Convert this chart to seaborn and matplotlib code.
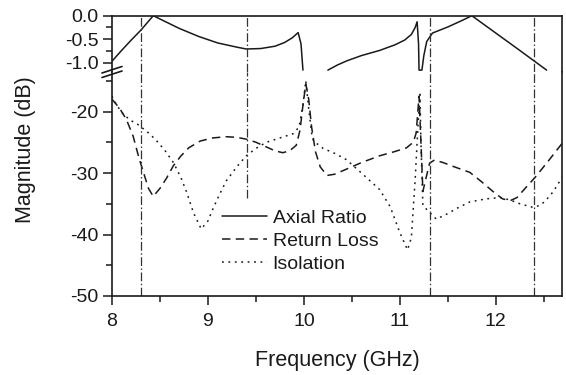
import numpy as np
import pandas as pd
import matplotlib
matplotlib.use("Agg")
import matplotlib.pyplot as plt
from matplotlib.lines import Line2D
from matplotlib.ticker import MultipleLocator
import seaborn as sns

# ---------------- data ----------------
ar_seg1_x = [8.00, 8.10, 8.20, 8.30, 8.43, 8.55, 8.70, 8.90, 9.10, 9.30, 9.40,
             9.55, 9.70, 9.80, 9.88, 9.94, 9.97, 9.99]
ar_seg1_y = [-0.97, -0.74, -0.52, -0.31, 0.00, -0.12, -0.27, -0.44, -0.58, -0.67, -0.71,
             -0.70, -0.65, -0.57, -0.47, -0.36, -0.60, -1.16]
ar_seg2_x = [10.25, 10.35, 10.45, 10.60, 10.79, 10.95, 11.05, 11.12, 11.16, 11.18,
             11.195, 11.20, 11.23, 11.25, 11.28, 11.34, 11.50, 11.65, 11.75, 12.00,
             12.25, 12.53]
ar_seg2_y = [-1.16, -1.05, -0.96, -0.85, -0.74, -0.62, -0.52, -0.40, -0.25, -0.13,
             -0.60, -1.16, -1.16, -0.85, -0.55, -0.37, -0.24, -0.10, 0.00, -0.37,
             -0.74, -1.16]

rl_x = [8.00, 8.08, 8.15, 8.22, 8.28, 8.33, 8.38, 8.43, 8.50, 8.57, 8.64, 8.72, 8.80,
        8.92, 9.05, 9.19, 9.30, 9.40, 9.50, 9.60, 9.70, 9.78, 9.85, 9.92, 9.96, 9.99,
        10.02, 10.05, 10.08, 10.12, 10.17, 10.24, 10.32, 10.44, 10.60, 10.79, 10.95,
        11.07, 11.14, 11.17, 11.20, 11.22, 11.24, 11.27, 11.31, 11.36, 11.45, 11.55,
        11.73, 11.85, 11.97, 12.07, 12.15, 12.22, 12.30, 12.41, 12.55, 12.70]
rl_y = [-18.0, -19.5, -21.3, -24.0, -27.5, -30.0, -32.5, -33.8, -32.5, -30.8, -28.8,
        -27.2, -25.9, -24.8, -24.3, -24.1, -24.2, -24.5, -25.0, -25.7, -26.4, -26.7,
        -26.4, -25.5, -23.0, -19.0, -15.5, -18.0, -22.5, -26.5, -29.0, -30.4, -30.2,
        -29.4, -28.3, -27.2, -26.5, -25.9, -25.0, -23.5, -17.5, -25.0, -33.0, -31.0,
        -28.4, -27.9, -28.3, -28.9, -29.9, -31.4, -33.0, -34.2, -34.5, -34.0, -32.6,
        -30.7, -28.0, -25.0]

iso_x = [8.00, 8.05, 8.12, 8.20, 8.26, 8.36, 8.45, 8.55, 8.64, 8.72, 8.78, 8.85, 8.93,
         9.00, 9.05, 9.12, 9.19, 9.30, 9.40, 9.50, 9.61, 9.75, 9.89, 9.95, 9.99, 10.02,
         10.05, 10.08, 10.10, 10.20, 10.32, 10.44, 10.60, 10.79, 10.90, 11.00, 11.08,
         11.12, 11.16, 11.19, 11.21, 11.22, 11.24, 11.31, 11.38, 11.50, 11.60, 11.73,
         11.90, 12.05, 12.15, 12.25, 12.39, 12.47, 12.53, 12.60, 12.70]
iso_y = [-17.5, -19.0, -20.5, -21.5, -22.0, -23.2, -24.5, -26.3, -28.3, -30.8, -33.2,
         -36.5, -39.1, -37.8, -35.9, -33.5, -31.3, -29.0, -27.2, -26.0, -25.0, -24.3,
         -23.6, -22.5, -19.0, -15.0, -19.5, -23.5, -24.8, -26.0, -26.8, -27.8, -30.0,
         -32.7, -35.5, -39.7, -42.5, -40.5, -31.0, -22.0, -17.2, -25.0, -35.3, -36.4,
         -37.5, -36.6, -35.7, -34.7, -34.2, -34.0, -34.4, -35.0, -35.6, -35.2, -34.3,
         -33.0, -30.5]

marker_freqs = [8.30, 9.41, 11.31, 12.40]
marker_bottom = [-50, -34, -50, -50]

series_labels = ["Axial Ratio", "Return Loss", "Isolation"]
x_ticks = [8, 9, 10, 11, 12]
# ----------------------------------------------------------------

sns.set_style("ticks")
plt.rcParams["font.family"] = ["Liberation Sans", "DejaVu Sans"]
plt.rcParams["axes.unicode_minus"] = False

W, H = 566, 375
fig = plt.figure(figsize=(W / 100, H / 100), dpi=100)

left, right = 112 / W, 562 / W
y_top, y_break, y_bot = 15.7, 72.0, 296.0
ax_top = fig.add_axes([left, 1 - y_break / H, right - left, (y_break - y_top) / H])
ax_bot = fig.add_axes([left, 1 - y_bot / H, right - left, (y_bot - y_break) / H])

ink = "#1a1a1a"
lw = 1.1
dashed = (0, (5.5, 3.5))
dotted = (0, (1.2, 3.0))

ar_df = pd.DataFrame({
    "f": ar_seg1_x + ar_seg2_x,
    "v": ar_seg1_y + ar_seg2_y,
    "seg": [1] * len(ar_seg1_x) + [2] * len(ar_seg2_x),
})
sns.lineplot(data=ar_df, x="f", y="v", units="seg", estimator=None, sort=False,
             color=ink, lw=lw, ax=ax_top)

rl_df = pd.DataFrame({"f": rl_x, "v": rl_y})
iso_df = pd.DataFrame({"f": iso_x, "v": iso_y})
sns.lineplot(data=rl_df, x="f", y="v", estimator=None, sort=False, color=ink, lw=lw,
             linestyle=dashed, ax=ax_bot)
sns.lineplot(data=iso_df, x="f", y="v", estimator=None, sort=False, color=ink, lw=lw,
             linestyle=dotted, ax=ax_bot)

xlim = (8.0, 12.69)
top_lim = (-1.2, 0.0)
bot_lim = (-50, -50 + (y_bot - y_break) / 6.15)

dd = (0, (7, 2, 1.2, 2))
for f, b in zip(marker_freqs, marker_bottom):
    ax_top.axvline(f, color="#333333", lw=0.9, linestyle=dd)
    ax_bot.vlines(f, b, bot_lim[1], color="#333333", lw=0.9, linestyle=dd)

FS_TICK = 14
FS_LAB = 15.5
for ax in (ax_top, ax_bot):
    ax.set_xlim(*xlim)
    ax.set_xlabel("")
    ax.set_ylabel("")
    for s in ax.spines.values():
        s.set_linewidth(1.2)
        s.set_color(ink)
    ax.tick_params(axis="both", which="major", direction="out", length=6.5, width=1.1,
                   colors=ink, labelsize=FS_TICK)
    ax.tick_params(axis="both", which="minor", direction="out", length=4, width=1.1,
                   colors=ink)
    ax.tick_params(axis="y", which="major", pad=3)
    ax.tick_params(axis="x", which="major", pad=6)
    ax.set_facecolor("white")

ax_top.set_ylim(*top_lim)
ax_top.spines["bottom"].set_visible(False)
ax_top.tick_params(axis="x", which="both", bottom=False, labelbottom=False)
ax_top.set_yticks([0.0, -0.5, -1.0])
ax_top.set_yticklabels(["0.0", "-0.5", "-1.0"])
ax_top.yaxis.set_minor_locator(MultipleLocator(0.25))

ax_bot.set_ylim(*bot_lim)
ax_bot.spines["top"].set_visible(False)
ax_bot.set_yticks([-20, -30, -40, -50])
ax_bot.yaxis.set_minor_locator(MultipleLocator(5))
ax_bot.set_xticks(x_ticks)
ax_bot.xaxis.set_minor_locator(MultipleLocator(0.5))
ax_bot.set_xlabel("Frequency (GHz)", fontsize=FS_LAB, labelpad=14, color=ink)

fig.text(26 / W, 1 - 150 / H, "Magnitude (dB)", rotation=90, fontsize=FS_LAB,
         ha="center", va="center", color=ink)

# axis-break marks on the left spine
for dy in (0, 4.5):
    x0, x1 = 102 / W, 122 / W
    ya, yb = 1 - (73 + dy) / H, 1 - (66.5 + dy) / H
    fig.add_artist(Line2D([x0, x1], [ya, yb], color=ink, lw=1.2,
                          transform=fig.transFigure))

handles = [Line2D([], [], color=ink, lw=lw),
           Line2D([], [], color=ink, lw=lw, linestyle=dashed),
           Line2D([], [], color=ink, lw=lw, linestyle=dotted)]
fig.legend(handles, series_labels, loc="upper left",
           bbox_to_anchor=(222 / W, 1 - 209 / H), frameon=False, fontsize=FS_TICK,
           handlelength=2.3, handletextpad=0.3, labelspacing=0.28,
           borderpad=0, borderaxespad=0, labelcolor=ink)

fig.savefig("out.png", dpi=100, facecolor="white")
